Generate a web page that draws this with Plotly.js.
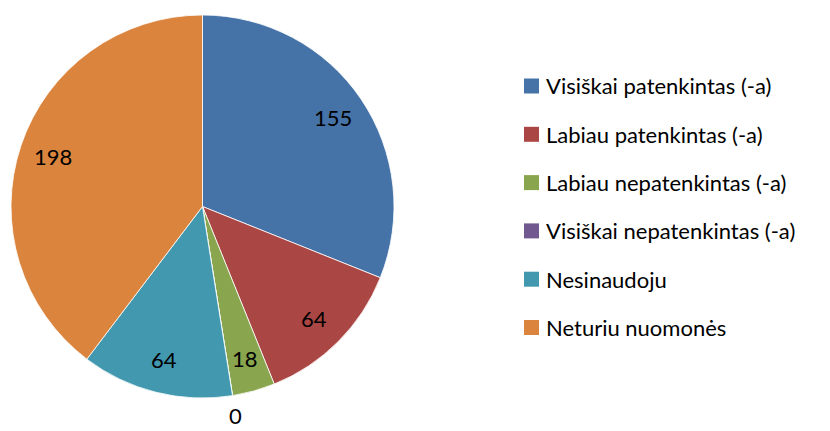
<!DOCTYPE html>
<html>
<head>
<meta charset="utf-8">
<script src="https://cdn.plot.ly/plotly-3.0.1.min.js"></script>
<style>html,body{margin:0;padding:0;background:#fff;}#chart{width:830px;height:431px;}</style>
</head>
<body>
<div id="chart"></div>
<script>
const categories = ["Visiškai patenkintas (-a)", "Labiau patenkintas (-a)", "Labiau nepatenkintas (-a)", "Visiškai nepatenkintas (-a)", "Nesinaudoju", "Neturiu nuomonės"];
const values = [155, 64, 18, 0, 64, 198];
const colors = ["#4572A7", "#AA4643", "#89A54E", "#71588F", "#4198AF", "#DB843D"];

const W = 830, H = 431;
const cx = 202.5, cy = 206.5, R = 191.5;
const FONT = "Lato, 'Open Sans', sans-serif";
const FS = 22;

const pie = {
  type: "pie",
  labels: categories,
  values: values,
  sort: false,
  direction: "clockwise",
  rotation: 0,
  marker: {colors: colors, line: {color: "#ffffff", width: 0.8}},
  textinfo: "none",
  hoverinfo: "label+value",
  showlegend: false,
  domain: {x: [(cx - R) / W, (cx + R) / W], y: [1 - (cy + R) / H, 1 - (cy - R) / H]}
};

const total = values.reduce((a, b) => a + b, 0);
const annotations = [];
const shapes = [];
// data labels placed along each slice's mid angle
let cum = 0;
values.forEach((v, i) => {
  const mid = (cum + v / 2) / total * 2 * Math.PI;
  cum += v;
  const rr = v === 0 ? R * 1.105 : R * 0.825;
  annotations.push({
    xref: "paper", yref: "paper",
    x: (cx + rr * Math.sin(mid)) / W,
    y: 1 - (cy - rr * Math.cos(mid)) / H,
    text: String(v), showarrow: false,
    borderpad: 0,
    font: {family: FONT, size: FS, color: "#000000"},
    xanchor: "center", yanchor: "middle"
  });
});
// legend
const legX = 524, legY0 = 86, legStep = 48.3, sq = 15;
categories.forEach((c, i) => {
  const yc = legY0 + i * legStep;
  shapes.push({
    type: "rect", xref: "paper", yref: "paper",
    x0: legX / W, x1: (legX + sq) / W,
    y0: 1 - (yc + sq / 2) / H, y1: 1 - (yc - sq / 2) / H,
    fillcolor: colors[i], line: {width: 0}
  });
  annotations.push({
    xref: "paper", yref: "paper",
    x: (legX + sq + 5) / W, y: 1 - yc / H,
    text: c, showarrow: false,
    xanchor: "left", yanchor: "middle",
    font: {family: FONT, size: FS, color: "#000000"}
  });
});

const layout = {
  width: W, height: H,
  margin: {l: 0, r: 0, t: 0, b: 0},
  paper_bgcolor: "#ffffff",
  showlegend: false,
  annotations: annotations,
  shapes: shapes
};

Plotly.newPlot("chart", [pie], layout, {displayModeBar: false, staticPlot: true});
</script>
</body>
</html>
